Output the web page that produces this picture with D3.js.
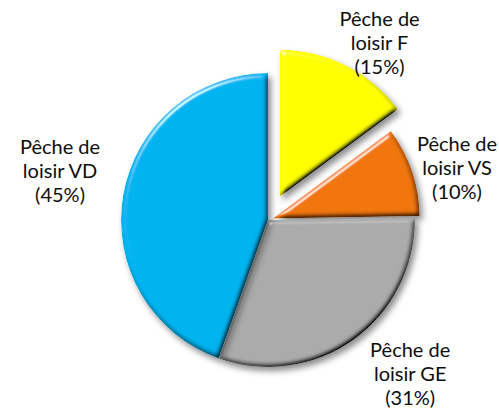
<!DOCTYPE html>
<html>
<head>
<meta charset="utf-8">
<script src="https://cdn.jsdelivr.net/npm/d3@7"></script>
<style>
  html, body { margin: 0; padding: 0; background: #fff; }
  svg { display: block; }
</style>
</head>
<body>
<div class="pieChart"></div>
<script>
// data
var categories = ["Pêche de loisir F", "Pêche de loisir VS", "Pêche de loisir GE", "Pêche de loisir VD"];
var values = [15, 10, 31, 45];
var pctLabels = ["(15%)", "(10%)", "(31%)", "(45%)"];
var colors = ["#ffff00", "#f0760f", "#ababab", "#00b4f0"];
var explode = [26, 5, 0, 0];

var width = 499, height = 409;
var cx = 268, cy = 220, radius = 147;
var labelRadius = 208;
// small per-slice label nudges (layout, like Excel's best-fit)
var labelShift = [[18, 10], [-8, 16], [21, -14], [-3, -13]];

var svg = d3.select("div.pieChart").append("svg")
    .attr("width", width)
    .attr("height", height);

var defs = svg.append("defs");
var f = defs.append("filter")
    .attr("id", "bevel")
    .attr("x", "-20%").attr("y", "-20%")
    .attr("width", "140%").attr("height", "140%");

// drop shadow
f.append("feGaussianBlur").attr("in", "SourceAlpha").attr("stdDeviation", 3).attr("result", "sblur");
f.append("feOffset").attr("in", "sblur").attr("dx", 3).attr("dy", 4).attr("result", "soff");
f.append("feFlood").attr("flood-color", "#000").attr("flood-opacity", 0.45).attr("result", "scol");
f.append("feComposite").attr("in", "scol").attr("in2", "soff").attr("operator", "in").attr("result", "shadow");

// bevel height map
f.append("feGaussianBlur").attr("in", "SourceAlpha").attr("stdDeviation", 2.5).attr("result", "hblur");
var elev = 50;
var diff = f.append("feDiffuseLighting")
    .attr("in", "hblur")
    .attr("surfaceScale", 4)
    .attr("diffuseConstant", 1 / Math.sin(elev * Math.PI / 180))
    .attr("lighting-color", "#fff")
    .attr("result", "diff");
diff.append("feDistantLight").attr("azimuth", 235).attr("elevation", elev);
f.append("feComposite").attr("in", "SourceGraphic").attr("in2", "diff")
    .attr("operator", "arithmetic").attr("k1", 1).attr("k2", 0).attr("k3", 0).attr("k4", 0)
    .attr("result", "shaded");

var spec = f.append("feSpecularLighting")
    .attr("in", "hblur")
    .attr("surfaceScale", 4)
    .attr("specularConstant", 0.8)
    .attr("specularExponent", 40)
    .attr("lighting-color", "#fff")
    .attr("result", "spec");
spec.append("feDistantLight").attr("azimuth", 235).attr("elevation", 25);
f.append("feComposite").attr("in", "spec").attr("in2", "SourceAlpha").attr("operator", "in").attr("result", "specIn");
f.append("feComposite").attr("in", "shaded").attr("in2", "specIn")
    .attr("operator", "arithmetic").attr("k1", 0).attr("k2", 1).attr("k3", 0.8).attr("k4", 0)
    .attr("result", "lit");
f.append("feComposite").attr("in", "lit").attr("in2", "SourceAlpha").attr("operator", "in").attr("result", "litIn");

var merge = f.append("feMerge");
merge.append("feMergeNode").attr("in", "shadow");
merge.append("feMergeNode").attr("in", "litIn");

var data = categories.map(function (c, i) {
    return {name: c, value: values[i], pct: pctLabels[i], color: colors[i], explode: explode[i]};
});

var pie = d3.pie()
    .sort(null)
    .value(function (d) { return d.value; });

var arc = d3.arc()
    .innerRadius(0)
    .outerRadius(radius);

var labelArc = d3.arc()
    .innerRadius(labelRadius)
    .outerRadius(labelRadius);

var arcs = pie(data);

var g = svg.append("g")
    .attr("transform", "translate(" + cx + "," + cy + ")");

g.selectAll("path.slice")
    .data(arcs)
    .enter().append("path")
    .attr("class", "slice")
    .attr("d", arc)
    .attr("fill", function (d) { return d.data.color; })
    .attr("filter", "url(#bevel)")
    .attr("transform", function (d) {
        var a = (d.startAngle + d.endAngle) / 2;
        var e = d.data.explode;
        return "translate(" + (Math.sin(a) * e) + "," + (-Math.cos(a) * e) + ")";
    });

var labels = g.selectAll("text.lbl")
    .data(arcs)
    .enter().append("text")
    .attr("class", "lbl")
    .attr("text-anchor", "middle")
    .attr("font-family", "Lato, 'Open Sans', sans-serif")
    .attr("font-size", "20px")
    .attr("fill", "#0d0d0d")
    .attr("transform", function (d, i) {
        var c = labelArc.centroid(d);
        return "translate(" + (c[0] + labelShift[i][0]) + "," + (c[1] + labelShift[i][1]) + ")";
    });

labels.each(function (d) {
    var t = d3.select(this);
    var words = d.data.name.split(" ");
    var lines = [words.slice(0, 2).join(" "), words.slice(2).join(" "), d.data.pct];
    lines.forEach(function (l, k) {
        t.append("tspan")
            .attr("x", 0)
            .attr("y", (k - 1) * 24 + 6)
            .text(l);
    });
});
</script>
</body>
</html>
